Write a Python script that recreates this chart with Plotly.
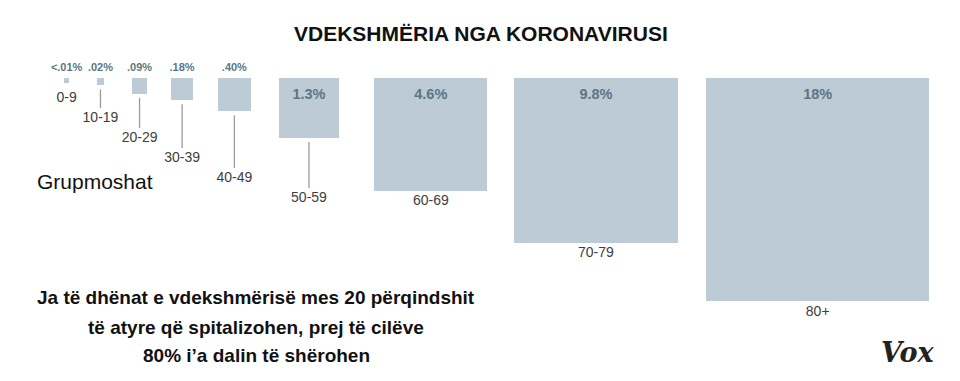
import numpy as np
import plotly.graph_objects as go

# ---- data ----
age_groups = ["0-9", "10-19", "20-29", "30-39", "40-49", "50-59", "60-69", "70-79", "80+"]
death_rate = [0.01, 0.02, 0.09, 0.18, 0.40, 1.3, 4.6, 9.8, 18]
rate_labels = ["<.01%", ".02%", ".09%", ".18%", ".40%", "1.3%", "4.6%", "9.8%", "18%"]

title = "VDEKSHMËRIA NGA KORONAVIRUSI"
axis_label = "Grupmoshat"
note_lines = ["Ja të dhënat e vdekshmërisë mes 20 përqindshit",
              "të atyre që spitalizohen, prej të cilëve",
              "80% i’a dalin të shërohen"]

# ---- layout constants (page-pixel units; page body has an 8px offset) ----
OFF = 8
W, H = 960 - OFF, 381 - OFF
TOP = 78
LEFT = 64
GAPS = [27.5, 27.5, 23.5, 24.5, 28, 35.5, 26.5, 28]
MAX_SIDE = 223
scale = MAX_SIDE / np.sqrt(max(death_rate))
FILL = "#bccbd6"
VAL_COL = "#5c7585"
AGE_COL = "#3d3d3d"
FONT = "Liberation Sans, Arial"

rates = np.array(death_rate)
sides = scale * np.sqrt(rates)
lefts = LEFT + np.concatenate([[0], np.cumsum(sides[:-1] + np.array(GAPS))])
centers = lefts + sides / 2
bottoms = TOP + sides

fig = go.Figure()
fig.add_trace(go.Bar(x=centers, y=sides, base=[TOP] * len(sides), width=sides,
                     marker=dict(color=FILL, line=dict(width=0)), hoverinfo="skip"))

# value labels: small ones above, big ones inside
small = rates < 1
fig.add_trace(go.Scatter(x=centers[small], y=[TOP - 10] * int(small.sum()), mode="text",
                         text=[t for t, s in zip(rate_labels, small) if s],
                         textfont=dict(family=FONT, size=11, color=VAL_COL),
                         texttemplate="<b>%{text}</b>", hoverinfo="skip"))
fig.add_trace(go.Scatter(x=centers[~small], y=[TOP + 17] * int((~small).sum()), mode="text",
                         text=[t for t, s in zip(rate_labels, small) if not s],
                         textfont=dict(family=FONT, size=14.5, color=VAL_COL),
                         texttemplate="<b>%{text}</b>", hoverinfo="skip"))

# age labels, staggered with leader lines for the small squares
label_y = []
for i, b in enumerate(bottoms):
    if i <= 5:
        label_y.append(max(b + 14, 98 + 20 * i))
    else:
        label_y.append(b + 11)
lx, ly = [], []
for i in range(1, 6):
    lx += [centers[i], centers[i], None]
    ly += [bottoms[i] + 4, label_y[i] - 10, None]
fig.add_trace(go.Scatter(x=lx, y=ly, mode="lines", line=dict(color="#9a9a9a", width=1.3),
                         hoverinfo="skip"))
fig.add_trace(go.Scatter(x=centers, y=label_y, mode="text", text=age_groups,
                         textfont=dict(family=FONT, size=14, color=AGE_COL),
                         hoverinfo="skip"))

annotations = [
    dict(text="<b>" + title + "</b>", x=481, y=33, showarrow=False,
         font=dict(family=FONT, size=21, color="#111111")),
    dict(text=axis_label, x=35, y=181, xanchor="left", showarrow=False,
         font=dict(family=FONT, size=21, color="#111111")),
    dict(text="<b><i>Vox</i></b>", x=907, y=352, showarrow=False,
         font=dict(family="DejaVu Serif, serif", size=27, color="#222222")),
]
for line, yy in zip(note_lines, [297, 327, 355]):
    annotations.append(dict(text="<b>" + line + "</b>", x=256, y=yy, showarrow=False,
                            font=dict(family=FONT, size=19, color="#111111")))
for a in annotations:
    a.update(xref="x", yref="y")

fig.update_layout(
    width=W, height=H, margin=dict(l=0, r=0, t=0, b=0),
    paper_bgcolor="white", plot_bgcolor="white", showlegend=False,
    xaxis=dict(range=[OFF, 960], visible=False, fixedrange=True),
    yaxis=dict(range=[381, OFF], visible=False, fixedrange=True),
    annotations=annotations, bargap=0,
)
fig.write_html("out.html")
